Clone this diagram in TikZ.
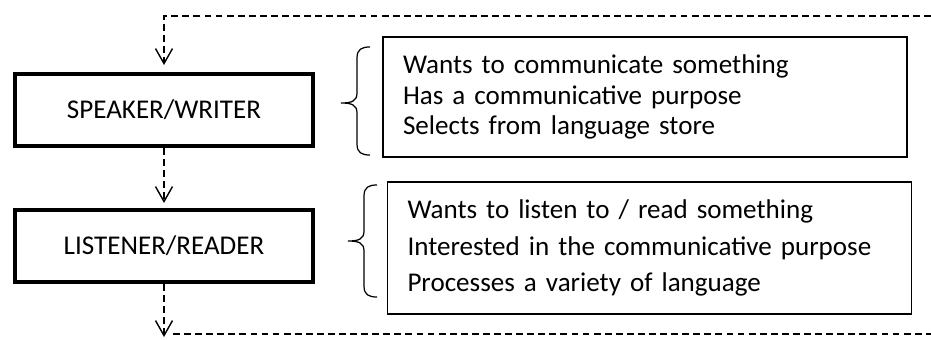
\documentclass[tikz,border=0pt]{standalone}
\usepackage{fontspec}
\setmainfont{Carlito}
\usetikzlibrary{arrows.meta}

\begin{document}
\begin{tikzpicture}[
		role/.style={draw, line width=2.3pt, minimum width=5.96cm, minimum height=1.44cm, font=\fontsize{15.4}{18}\selectfont},
		notes/.style={draw, line width=0.7pt, text width=9.68cm, inner xsep=0.4cm, minimum height=#1, align=left},
		link/.style={line width=1.3pt, dash pattern=on 3.9pt off 2.4pt},
		flow/.style={link, -{Straight Barb[length=0.3cm, width=0.34cm, line width=0.8pt]}},
		curly/.style={line width=0.7pt}
	]
	\useasboundingbox (0,0) rectangle (18.62,6.78);
	
	% roles
	\node[role] (speaker)  at (3.28,4.58) {SPEAKER/WRITER};
	\node[role] (listener) at (3.28,1.86) {LISTENER/READER};
	
	% what each role does
	\node[notes=2.40cm, font=\fontsize{15.4}{17.6}\selectfont] (speakernotes) at (12.90,4.84)
		{Wants to communicate something\\Has a communicative purpose\\Selects from language store};
	\node[notes=2.64cm, font=\fontsize{15.4}{20.6}\selectfont] (listenernotes) at (12.99,1.82)
		{Wants to listen to / read something\\Interested in the communicative purpose\\Processes a variety of language};
	
	% braces: end x / top / tip / bottom
	\foreach \e/\t/\m/\b in {7.40/5.84/4.72/3.68, 7.54/3.08/1.96/0.84}
		\draw[curly] (\e,\t) .. controls (\e-0.16,\t) and (\e-0.26,\t-0.04) .. (\e-0.26,\t-0.22)
			-- (\e-0.26,\m+0.2) .. controls (\e-0.26,\m+0.04) and (\e-0.36,\m) .. (\e-0.58,\m)
			.. controls (\e-0.36,\m) and (\e-0.26,\m-0.04) .. (\e-0.26,\m-0.2)
			-- (\e-0.26,\b+0.22) .. controls (\e-0.26,\b+0.04) and (\e-0.16,\b) .. (\e,\b);
	
	% loop
	\coordinate (topright) at (18.62,6.46);
	\coordinate (botarrow) at (3.28,0.04);
	\coordinate (botleft)  at (3.46,0.10);
	\coordinate (botright) at (18.62,0.10);
	\draw[flow, shorten >=0.14cm] (topright) -| (speaker.north);
	\draw[flow, shorten >=0.10cm] (speaker) -- (listener);
	\draw[flow] (listener) -- (botarrow);
	\draw[link] (botleft) -- (botright);
	
\end{tikzpicture}
\end{document}
